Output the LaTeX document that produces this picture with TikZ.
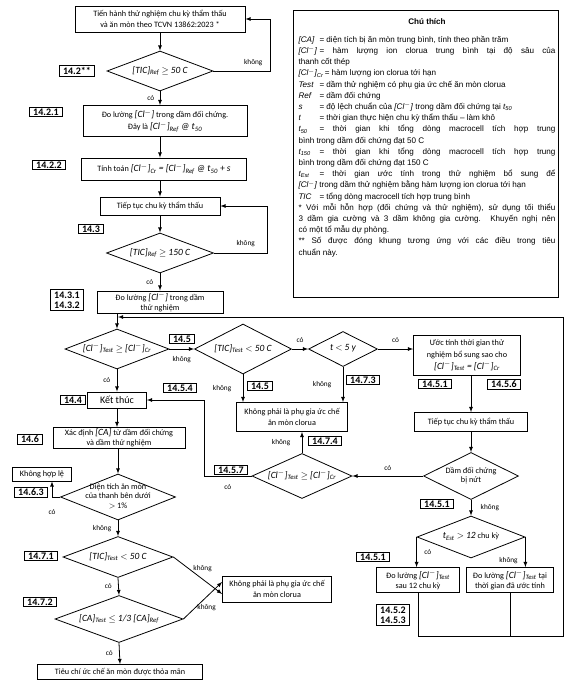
\documentclass[tikz,border=0pt]{standalone}
\usepackage{fontspec}
\setmainfont{Carlito}
\newfontfamily\legendfont{Liberation Sans}
\usetikzlibrary{shapes.geometric}

\newcommand{\clion}{[Cl$^{-}$]}
\newcommand{\fm}[1]{{\fontsize{9.5}{10.5}\selectfont\itshape #1}}
\newcommand{\dtext}[1]{\smash{\makebox[0pt]{\raisebox{-2pt}{\begin{tabular}{@{}c@{}}#1\end{tabular}}}}}
\newcommand{\legitem}[2]{\sbox0{\textit{#1}\,}\ifdim\wd0<21pt\makebox[21pt][l]{\textit{#1}}\else\usebox0\fi= #2\par}

\tikzset{
	box/.style={draw, line width=.8pt, align=center, inner sep=1pt, font=\fontsize{8.2}{10.5}\selectfont},
	wide/.style={font=\fontsize{8.2}{12}\selectfont},
	tag/.style={draw, line width=.9pt, align=center, inner xsep=3.5pt, inner ysep=1.5pt, font=\bfseries\fontsize{10}{10.5}\selectfont},
	dia/.style={diamond, draw, line width=.8pt, inner sep=0pt, font=\fontsize{8.2}{9.5}\selectfont},
	lbl/.style={font=\fontsize{7.3}{8}\selectfont},
	ln/.style={line width=.8pt},
	arr/.style={line width=.8pt, -latex}
}

\begin{document}
\begin{tikzpicture}[x=1pt,y=-1pt]
	\useasboundingbox (0,0) rectangle (576,689);

	% left column, top part
	\node[box, minimum width=170pt, minimum height=26pt] (start) at (160,19) {Tiến hành thử nghiệm chu kỳ thẩm thấu\\và ăn mòn theo TCVN 13862:2023 *};
	\node[dia, minimum width=106pt, minimum height=40pt] (d142) at (160,71) {\dtext{\fm{[TIC]\textsubscript{Ref} $\geq$ 50 C}}};
	\node[box, wide, minimum width=164pt, minimum height=31pt] (b1421) at (165,121) {Đo lường \fm{\clion} trong dầm đối chứng.\\Đây là \fm{\clion\textsubscript{Ref} @ t\textsubscript{50}}};
	\node[box, minimum width=165pt, minimum height=22pt] (b1422) at (164,169) {Tính toán \fm{\clion\textsubscript{Cr} = \clion\textsubscript{Ref} @ t\textsubscript{50} + s}};
	\node[box, minimum width=120pt, minimum height=18pt] (cont1) at (160,206) {Tiếp tục chu kỳ thẩm thấu};
	\node[dia, minimum width=107pt, minimum height=40pt] (d143) at (160,253) {\dtext{\fm{[TIC]\textsubscript{Ref} $\geq$ 150 C}}};
	\node[box, minimum width=126pt, minimum height=21pt] (b143) at (160,302) {Đo lường \fm{\clion} trong dầm\\thử nghiệm};
	\coordinate (back) at (118,317);

	% row of the test beam
	\node[dia, minimum width=104pt, minimum height=40pt] (dcl1) at (117,349) {\dtext{\fm{\clion\textsubscript{Test} $\geq$ \clion\textsubscript{Cr}}}};
	\node[dia, minimum width=97pt, minimum height=50pt] (dtic1) at (243,349) {\dtext{\fm{[TIC]\textsubscript{Test} $<$ 50 C}}};
	\node[dia, minimum width=69pt, minimum height=35pt] (dt5) at (343,349) {\dtext{\fm{t $<$ 5 y}}};
	\node[box, wide, minimum width=107pt, minimum height=40pt] (best) at (467,355) {Ước tính thời gian thử\\nghiệm bổ sung sao cho\\\fm{\clion\textsubscript{Test} = \clion\textsubscript{Cr}}};
	\node[box, minimum width=111pt, minimum height=29pt] (bnot1) at (292,417) {Không phải là phụ gia ức chế\\ăn mòn clorua};
	\node[box, minimum width=113pt, minimum height=19pt] (cont2) at (471,422) {Tiếp tục chu kỳ thẩm thấu};
	\node[dia, minimum width=95pt, minimum height=47pt] (dnut) at (471,476) {\dtext{Dầm đối chứng\\bị nứt}};
	\node[dia, minimum width=100pt, minimum height=45pt] (dcl2) at (302,476) {\dtext{\fm{\clion\textsubscript{Test} $\geq$ \clion\textsubscript{Cr}}}};
	\node[dia, minimum width=108pt, minimum height=42pt] (dest) at (471,537) {\dtext{\fm{t\textsubscript{Est} $>$ 12} chu kỳ}};
	\node[box, minimum width=83pt, minimum height=25pt] (b12) at (418,580) {Đo lường \fm{\clion\textsubscript{Test}}\\sau 12 chu kỳ};
	\node[box, minimum width=87pt, minimum height=25pt] (bestm) at (510,580) {Đo lường \fm{\clion\textsubscript{Test}} tại\\thời gian đã ước tính};
	\coordinate (loopbot) at (563,636);

	% left column, bottom part
	\node[box, minimum width=59pt, minimum height=16pt] (end) at (117,400) {\fontsize{10}{10}\selectfont Kết thúc};
	\node[box, minimum width=132pt, minimum height=21pt] (bca) at (119,438) {Xác định \fm{[CA]} từ dầm đối chứng\\và dầm thử nghiệm};
	\node[dia, minimum width=115pt, minimum height=46pt] (d146) at (118,497) {\dtext{Diện tích ăn mòn\\của thanh bên dưới\\$>$ 1\%}};
	\node[box, minimum width=59pt, minimum height=14pt] (invalid) at (42,474) {Không hợp lệ};
	\node[dia, minimum width=110pt, minimum height=41pt] (dtic2) at (118,557) {\dtext{\fm{[TIC]\textsubscript{Test} $<$ 50 C}}};
	\node[box, minimum width=109pt, minimum height=26pt] (bnot2) at (277,589) {Không phải là phụ gia ức chế\\ăn mòn clorua};
	\node[dia, minimum width=128pt, minimum height=47pt] (dca) at (119,619) {\dtext{\fm{[CA]\textsubscript{Test} $\leq$ 1/3 [CA]\textsubscript{Ref}}}};
	\node[box, minimum width=165pt, minimum height=15pt] (final) at (120,672) {Tiêu chí ức chế ăn mòn được thỏa mãn};

	% clause numbers
	\node[tag] (t142) at (77,71) {14.2**};
	\node[tag] (t1421) at (46,112) {14.2.1};
	\node[tag] (t1422) at (49,165) {14.2.2};
	\node[tag] (t143) at (91,229) {14.3};
	\node[tag] (t1431) at (67,300) {14.3.1\\14.3.2};
	\node[tag] (t145a) at (182,339) {14.5};
	\node[tag] (t145b) at (260,386) {14.5};
	\node[tag] (t1473) at (363,380) {14.7.3};
	\node[tag] (t1474) at (325,441) {14.7.4};
	\node[tag] (t1457) at (231,470) {14.5.7};
	\node[tag] (t1454) at (180,388) {14.5.4};
	\node[tag] (t144) at (73,400) {14.4};
	\node[tag] (t146) at (30,439) {14.6};
	\node[tag] (t1463) at (31,492) {14.6.3};
	\node[tag] (t1471) at (41,556) {14.7.1};
	\node[tag] (t1472) at (40,602) {14.7.2};
	\node[tag] (t1451a) at (435,384) {14.5.1};
	\node[tag] (t1456) at (504,384) {14.5.6};
	\node[tag] (t1451b) at (437,504) {14.5.1};
	\node[tag] (t1451c) at (373,557) {14.5.1};
	\node[tag] (t14523) at (393,615) {14.5.2\\14.5.3};

	% connectors
	\draw[arr] (start.south -| d142.north) -- (d142.north);
	\draw[arr] (d142.east) -- ++(57,0) node[lbl, pos=.7, above=2pt] {không} |- (start.east);
	\draw[arr] (d142.south) -- node[lbl, left=2pt] {có} (d142.south |- b1421.north);
	\draw[arr] (d142.south |- b1421.south) -- (d142.south |- b1422.north);
	\draw[arr] (d142.south |- b1422.south) -- (cont1.north);
	\draw[arr] (cont1.south) -- (d143.north);
	\draw[arr] (d143.east) -- ++(53,0) node[lbl, pos=.6, above=3pt] {không} |- (cont1.east);
	\draw[arr] (d143.south) -- node[lbl, left=3pt] {có} (b143.north);
	\draw[arr] (dcl1.north |- b143.south) -- (dcl1.north);
	\draw[arr] (dcl1.east) -- node[lbl, below=4pt] {không} (dtic1.west);
	\draw[arr] (dtic1.east) -- node[lbl, above=3pt] {có} (dt5.west);
	\draw[arr] (dt5.east) -- node[lbl, above=3pt] {có} (dt5.east -| best.west);
	\draw[arr] (dtic1.south) -- node[lbl, left=8pt] {không} (dtic1.south |- bnot1.north);
	\draw[arr] (dt5.south) -- node[lbl, left=8pt] {không} (dt5.south |- bnot1.north);
	\draw[arr] (best.south -| cont2.north) -- (cont2.north);
	\draw[arr] (cont2.south) -- (dnut.north);
	\draw[arr] (dnut.west) -- node[lbl, above=2pt] {có} (dcl2.east);
	\draw[arr] (dcl2.north) -- node[lbl, left=8pt] {không} (dcl2.north |- bnot1.south);
	\draw[arr] (dcl2.west) -- (204,476) node[lbl, pos=.5, below=5pt] {có} |- (end.east);
	\draw[arr] (dnut.south) -- node[lbl, right=6pt] {không} (dest.north);
	\draw[arr] (dest.west) -- node[lbl, right=4pt] {có} (dest.west |- b12.north);
	\draw[arr] (dest.east) -- node[lbl, left=4pt, pos=.8] {không} (dest.east |- bestm.north);
	\draw[ln] (bestm.south) -- (bestm.south |- loopbot);
	\draw[arr] (b12.south) |- (loopbot) |- (back);
	\draw[arr] (dcl1.south) -- node[lbl, left=3pt] {có} (end.north);
	\draw[arr] (end.south) -- (end.south |- bca.north);
	\draw[arr] (d146.north |- bca.south) -- (d146.north);
	\draw[arr] (d146.west) -| node[lbl, pos=.5, below=9pt] {có} ([xshift=10pt]invalid.south);
	\draw[arr] (d146.south) -- node[lbl, left=3pt] {không} (dtic2.north);
	\draw[arr] (dtic2.east) -- node[lbl, pos=.6, above=4pt] {không} ([yshift=-5pt]bnot2.west);
	\draw[arr] (dtic2.south) -- node[lbl, left=3pt] {có} (dca.north);
	\draw[arr] (dca.east) -- node[lbl, pos=.6, below=4pt] {không} ([yshift=7pt]bnot2.west);
	\draw[arr] (dca.south) -- node[lbl, left=3pt] {có} (final.north);

	% legend
	\draw[line width=.8pt] (293,10) rectangle (558,297);
	\node[anchor=north, text width=257pt, align=justify, inner sep=0pt, font=\legendfont\fontsize{8.1}{11.2}\selectfont] (legend) at (427,18) {%
		\parindent=0pt \tolerance=9999 \hfuzz=3pt
		\centerline{\bfseries Chú thích}\par\vspace{7pt}
		\legitem{[CA]}{diện tích bị ăn mòn trung bình, tính theo phần trăm}
		\legitem{\clion}{hàm lượng ion clorua trung bình tại độ sâu của\linebreak thanh cốt thép}
		\legitem{\clion\textsubscript{Cr}}{hàm lượng ion clorua tới hạn}
		\legitem{Test}{dầm thử nghiệm có phụ gia ức chế ăn mòn clorua}
		\legitem{Ref}{dầm đối chứng}
		\legitem{s}{độ lệch chuẩn của \textit{\clion} trong dầm đối chứng tại \textit{t\textsubscript{50}}}
		\legitem{t}{thời gian thực hiện chu kỳ thẩm thấu – làm khô}
		\legitem{t\textsubscript{50}}{thời gian khi tổng dòng macrocell tích hợp trung\linebreak bình trong dầm đối chứng đạt 50 C}
		\legitem{t\textsubscript{150}}{thời gian khi tổng dòng macrocell tích hợp trung\linebreak bình trong dầm đối chứng đạt 150 C}
		\legitem{t\textsubscript{Est}}{thời gian ước tính trong thử nghiệm bổ sung để\linebreak \textit{\clion} trong dầm thử nghiệm bằng hàm lượng ion clorua tới hạn}
		\legitem{TIC}{tổng dòng macrocell tích hợp trung bình}
		* Với mỗi hỗn hợp (đối chứng và thử nghiệm), sử dụng tối thiểu\linebreak 3 dầm gia cường và 3 dầm không gia cường. Khuyến nghị nên\linebreak có một tổ mẫu dự phòng.\par
		** Số được đóng khung tương ứng với các điều trong tiêu\linebreak chuẩn này.\par};
\end{tikzpicture}
\end{document}
